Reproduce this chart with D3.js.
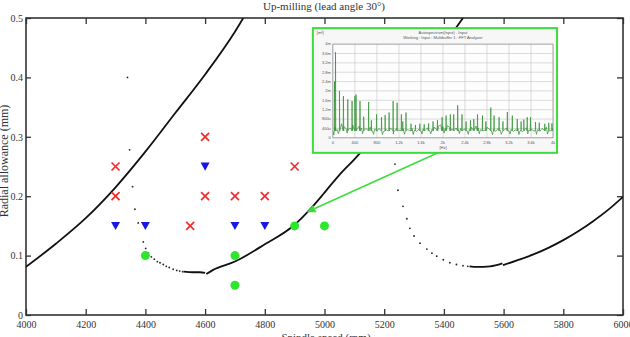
<!DOCTYPE html>
<html><head><meta charset="utf-8">
<script src="https://cdn.jsdelivr.net/npm/d3@7"></script>
<style>
html,body{margin:0;padding:0;background:#fff;}
svg{display:block;}
</style></head>
<body>
<svg id="chart" width="630" height="337"></svg>
<script>
// ---------- data ----------
const title = "Up-milling (lead angle 30°)";
const xLabel = "Spindle speed (rpm)";
const yLabel = "Radial allowance (mm)";
const xTicks = [4000,4200,4400,4600,4800,5000,5200,5400,5600,5800,6000];
const yTicks = [0,0.1,0.2,0.3,0.4,0.5];
const yTickLabels = ["0","0.1","0.2","0.3","0.4","0.5"];

// stability lobes: solid (dense) segments
const lobeSolid1 = [[4000,0.081],[4100,0.120],[4200,0.163],[4300,0.215],[4400,0.275],[4500,0.340],[4600,0.405],[4700,0.477],[4728,0.5]];
const lobeSolid2a = [[4528,0.073],[4560,0.072],[4583,0.072],[4600,0.071]];
const lobeSolid2b = [[4604,0.069],[4627,0.076],[4700,0.090],[4800,0.119],[4900,0.152],[4950,0.177],[5000,0.206],[5050,0.236],[5100,0.262],[5200,0.320],[5300,0.385],[5400,0.455],[5464,0.5]];
const lobeSolid3a = [[5486,0.082],[5510,0.081],[5555,0.082],[5596,0.087]];
const lobeSolid3b = [[5598,0.084],[5645,0.092],[5700,0.102],[5750,0.113],[5800,0.126],[5850,0.141],[5900,0.158],[5950,0.177],[6000,0.199]];
// stability lobes: sparse dotted branches
const lobeDots2 = [[4340,0.40],[4347,0.278],[4357,0.216],[4365,0.178],[4376,0.155],[4393,0.123],[4401,0.112],[4410,0.104],[4420,0.098],[4430,0.094],[4440,0.090],[4449,0.088],[4460,0.085],[4470,0.082],[4480,0.080],[4493,0.077],[4505,0.075],[4515,0.074],[4525,0.073]];
const lobeDots3 = [[5236,0.254],[5246,0.21],[5263,0.183],[5276,0.162],[5286,0.146],[5300,0.133],[5320,0.121],[5343,0.111],[5360,0.104],[5376,0.099],[5398,0.093],[5420,0.088],[5442,0.085],[5464,0.083],[5480,0.082]];

// cutting tests
const unstable = [[4300,0.25],[4300,0.2],[4600,0.3],[4600,0.2],[4700,0.2],[4800,0.2],[4550,0.15],[4900,0.25]];
const marginal = [[4300,0.15],[4400,0.15],[4600,0.25],[4700,0.15],[4800,0.15]];
const stable = [[4400,0.1],[4700,0.1],[4700,0.05],[4900,0.15],[5000,0.15]];

// inset (FFT spectrum) placed in data coordinates of main chart
const insetBox = {x0:4961, x1:5779, y0:0.483, y1:0.273};
const arrowFrom = [5380,0.273];
const arrowTo = [4940,0.173];
const insetTitle1 = "Autospectrum(Input) - Input";
const insetTitle2 = "Working : Input : Multibuffer 1 : FFT Analyzer";
const insetYUnit = "[m²]";
const insetXUnit = "[Hz]";
const fTicks = [0,400,800,1200,1600,2000,2400,2800,3200,3600,4000];
const fTickLabels = ["0","400","800","1.2k","1.6k","2k","2.4k","2.8k","3.2k","3.6k","4k"];
const aTicks = [0,0.4,0.8,1.2,1.6,2.0,2.4,2.8,3.2,3.6,4.0];
const aTickLabels = ["0","400u","800u","1.2m","1.6m","2m","2.4m","2.8m","3.2m","3.6m","4m"];
// baseline noise (m), every 40 Hz from 0 to 4000
const specBase = [0.30,0.45,0.35,0.50,0.60,0.48,0.40,0.35,0.42,0.55,0.45,0.38,0.50,0.42,0.35,0.40,0.32,0.45,0.30,0.38,
  0.28,0.40,0.33,0.27,0.36,0.30,0.42,0.35,0.28,0.40,0.33,0.30,0.38,0.28,0.35,0.30,0.40,0.32,0.27,0.36,
  0.30,0.38,0.33,0.42,0.30,0.36,0.45,0.38,0.50,0.55,0.48,0.40,0.52,0.45,0.38,0.50,0.42,0.35,0.40,0.33,
  0.38,0.30,0.36,0.45,0.38,0.50,0.42,0.35,0.40,0.32,0.45,0.38,0.30,0.36,0.28,0.40,0.33,0.27,0.35,0.42,
  0.30,0.36,0.28,0.34,0.40,0.30,0.26,0.35,0.42,0.33,0.38,0.30,0.45,0.35,0.28,0.40,0.33,0.45,0.38,0.30,0.42];
const specBaseStep = 40;
// dips in the noise (Hz, m)
const specDips = [[20,0.12],[100,0.18],[260,0.2],[540,0.18],[740,0.15],[900,0.14],[1100,0.16],[1300,0.15],[1460,0.14],[1620,0.16],[1780,0.17],[2020,0.2],[2300,0.18],[2460,0.15],[2660,0.17],[2900,0.14],[3060,0.15],[3220,0.16],[3380,0.14],[3540,0.17],[3700,0.15],[3900,0.16]];
// spectral peaks (Hz, m)
const specPeaks = [[30,2.4],[48,3.65],[120,2.0],[192,1.78],[271,1.64],[349,1.57],[400,1.78],[421,1.85],[493,1.57],[560,0.9],[650,1.53],[700,0.75],
  [794,1.0],[884,0.88],[950,0.97],[1022,1.08],[1095,1.57],[1167,1.5],[1245,1.0],[1270,0.7],[1329,1.08],
  [1420,0.6],[1500,0.55],[1580,0.6],[1660,0.58],[1740,0.62],[1820,0.7],[1900,0.75],[1985,0.88],[2057,0.95],[2135,1.0],[2195,1.0],
  [2268,1.39],[2346,1.0],[2420,0.7],[2500,0.75],[2560,0.8],[2628,1.0],[2718,0.95],[2780,0.7],[2869,1.29],[2929,0.95],[3020,0.88],
  [3090,0.7],[3170,1.1],[3260,0.95],[3350,0.8],[3420,0.7],[3470,0.78],[3531,0.88],[3591,0.88],[3681,0.67],[3750,0.65],[3850,0.6],[3922,0.64],[3980,0.62]];

// ---------- drawing ----------
const svg = d3.select("#chart");
const W = 630, H = 337;
const m = {l:26, r:7, t:18, b:22};
const x = d3.scaleLinear().domain([4000,6000]).range([m.l, W-m.r]);
const y = d3.scaleLinear().domain([0,0.5]).range([H-m.b, m.t]);
const serif = "'Liberation Serif','Times New Roman',serif";
const ink = "#333";

// title
svg.append("text").attr("x", 324).attr("y", 10).attr("text-anchor","middle")
  .attr("font-family", serif).attr("font-size", 11).attr("fill", ink).text(title);

// axes
function styleAxis(g){
  g.select(".domain").remove();
  g.selectAll(".tick line").attr("stroke", ink).attr("stroke-width", 1.3);
  g.selectAll(".tick text").attr("font-family", serif).attr("font-size", 10).attr("fill", ink);
}
svg.append("g").attr("transform",`translate(0,${y(0)})`)
  .call(d3.axisBottom(x).tickValues(xTicks).tickFormat(d3.format("d")).tickSizeInner(-6).tickSizeOuter(0).tickPadding(6))
  .call(styleAxis);
svg.append("g").attr("transform",`translate(0,${y(0.5)})`)
  .call(d3.axisTop(x).tickValues(xTicks).tickFormat("").tickSizeInner(-6).tickSizeOuter(0))
  .call(styleAxis);
svg.append("g").attr("transform",`translate(${x(4000)},0)`)
  .call(d3.axisLeft(y).tickValues(yTicks).tickFormat((d,i)=>yTickLabels[i]).tickSizeInner(-5).tickSizeOuter(0).tickPadding(3))
  .call(styleAxis);
svg.append("g").attr("transform",`translate(${x(6000)},0)`)
  .call(d3.axisRight(y).tickValues(yTicks).tickFormat("").tickSizeInner(-6).tickSizeOuter(0))
  .call(styleAxis);

// frame
svg.append("rect").attr("x", x(4000)).attr("y", y(0.5)).attr("width", x(6000)-x(4000)).attr("height", y(0)-y(0.5))
  .attr("fill","none").attr("stroke", ink).attr("stroke-width", 1.6);

// axis labels
svg.append("text").attr("x", 326).attr("y", 341).attr("text-anchor","middle")
  .attr("font-family", serif).attr("font-size", 11).attr("fill", ink).text(xLabel);
svg.append("text").attr("transform", "translate(8,161) rotate(-90)").attr("text-anchor","middle")
  .attr("font-family", serif).attr("font-size", 12).attr("fill", ink).text(yLabel);

// clip for plot
svg.append("clipPath").attr("id","plotclip").append("rect")
  .attr("x", x(4000)).attr("y", y(0.5)).attr("width", x(6000)-x(4000)).attr("height", y(0)-y(0.5));
const plot = svg.append("g").attr("clip-path","url(#plotclip)");

const line = d3.line().x(d=>x(d[0])).y(d=>y(d[1])).curve(d3.curveMonotoneX);
[lobeSolid1, lobeSolid2a, lobeSolid2b, lobeSolid3a, lobeSolid3b].forEach(seg=>{
  plot.append("path").datum(seg).attr("d", line).attr("fill","none")
    .attr("stroke","#111").attr("stroke-width", 1.8);
});
[lobeDots2, lobeDots3].forEach(dots=>{
  plot.selectAll(null).data(dots).enter().append("circle")
    .attr("cx", d=>x(d[0])).attr("cy", d=>y(d[1])).attr("r", 0.9).attr("fill","#222");
});

// markers
const red = "#f22a2a", blue = "#1717e6", green = "#2ee62e";
const xs = plot.selectAll(null).data(unstable).enter().append("g")
  .attr("transform", d=>`translate(${x(d[0])},${y(d[1])})`);
xs.append("path").attr("d","M-4,-4L4,4M-4,4L4,-4").attr("stroke", red).attr("stroke-width", 1.7).attr("fill","none");
plot.selectAll(null).data(marginal).enter().append("path")
  .attr("transform", d=>`translate(${x(d[0])},${y(d[1])})`)
  .attr("d","M-4.5,-4L4.5,-4L0,4.2Z").attr("fill", blue);
plot.selectAll(null).data(stable).enter().append("circle")
  .attr("cx", d=>x(d[0])).attr("cy", d=>y(d[1])).attr("r", 4.5).attr("fill", green);

// arrow from inset to lobe
const insetGreen = "#3ddc3d";
const ax0 = x(arrowFrom[0]), ay0 = y(arrowFrom[1]), ax1 = x(arrowTo[0]), ay1 = y(arrowTo[1]);
const ang = Math.atan2(ay1-ay0, ax1-ax0);
const hl = 9, hw = 4;
const bx = ax1 - hl*Math.cos(ang), by = ay1 - hl*Math.sin(ang);
svg.append("line").attr("x1", ax0).attr("y1", ay0).attr("x2", bx).attr("y2", by)
  .attr("stroke", insetGreen).attr("stroke-width", 1.6);
svg.append("path").attr("d", `M${ax1},${ay1}L${bx - hw*Math.sin(ang)},${by + hw*Math.cos(ang)}L${bx + hw*Math.sin(ang)},${by - hw*Math.cos(ang)}Z`)
  .attr("fill", insetGreen);

// inset
const ix0 = x(insetBox.x0), ix1 = x(insetBox.x1), iy0 = y(insetBox.y0), iy1 = y(insetBox.y1);
const inset = svg.append("g");
inset.append("rect").attr("x", ix0).attr("y", iy0).attr("width", ix1-ix0).attr("height", iy1-iy0)
  .attr("fill","#f7f7f7").attr("stroke", insetGreen).attr("stroke-width", 2);
const fx = d3.scaleLinear().domain([0,4000]).range([ix0+20, ix1-4]);
const fy = d3.scaleLinear().domain([0,4]).range([iy1-15, iy0+16]);
inset.append("rect").attr("x", fx(0)).attr("y", fy(4)).attr("width", fx(4000)-fx(0)).attr("height", fy(0)-fy(4))
  .attr("fill","#fdfdfd");
inset.selectAll(null).data(fTicks).enter().append("line")
  .attr("x1", d=>fx(d)).attr("x2", d=>fx(d)).attr("y1", fy(0)).attr("y2", fy(4))
  .attr("stroke","#c4c4c4").attr("stroke-width", 0.6);
inset.selectAll(null).data(aTicks).enter().append("line")
  .attr("x1", fx(0)).attr("x2", fx(4000)).attr("y1", d=>fy(d)).attr("y2", d=>fy(d))
  .attr("stroke","#c4c4c4").attr("stroke-width", 0.6);
inset.append("rect").attr("x", fx(0)).attr("y", fy(4)).attr("width", fx(4000)-fx(0)).attr("height", fy(0)-fy(4))
  .attr("fill","none").attr("stroke","#888").attr("stroke-width", 0.6);
const sans = "'Liberation Sans','DejaVu Sans',sans-serif";
inset.selectAll(null).data(aTicks).enter().append("text")
  .attr("x", fx(0)-2).attr("y", d=>fy(d)+1.4).attr("text-anchor","end")
  .attr("font-family", sans).attr("font-size", 4).attr("fill","#555").text((d,i)=>aTickLabels[i]);
inset.selectAll(null).data(fTicks).enter().append("text")
  .attr("x", d=>fx(d)).attr("y", fy(0)+6).attr("text-anchor","middle")
  .attr("font-family", sans).attr("font-size", 4).attr("fill","#555").text((d,i)=>fTickLabels[i]);
inset.append("text").attr("x", (fx(0)+fx(4000))/2).attr("y", fy(0)+11).attr("text-anchor","middle")
  .attr("font-family", sans).attr("font-size", 4).attr("fill","#555").text(insetXUnit);
inset.append("text").attr("x", ix0+4).attr("y", iy0+6).attr("font-family", sans).attr("font-size", 4).attr("fill","#555").text(insetYUnit);
inset.append("text").attr("x", (fx(0)+fx(4000))/2).attr("y", iy0+6).attr("text-anchor","middle")
  .attr("font-family", sans).attr("font-size", 4).attr("fill","#555").text(insetTitle1);
inset.append("text").attr("x", (fx(0)+fx(4000))/2).attr("y", iy0+11).attr("text-anchor","middle")
  .attr("font-family", sans).attr("font-size", 4).attr("fill","#555").text(insetTitle2);

// spectrum series assembled from base, dips and peaks
const spec = specBase.map((v,i)=>[i*specBaseStep, v]);
specDips.forEach(d=>spec.push(d));
specPeaks.forEach(p=>{ spec.push([p[0]-5, 0.3]); spec.push(p); spec.push([p[0]+5, 0.3]); });
spec.sort((a,b)=>a[0]-b[0]);
const specLine = d3.line().x(d=>fx(d[0])).y(d=>fy(d[1]));
inset.append("clipPath").attr("id","specclip").append("rect")
  .attr("x", fx(0)).attr("y", fy(4)).attr("width", fx(4000)-fx(0)).attr("height", fy(0)-fy(4));
inset.append("path").datum(spec).attr("d", specLine).attr("clip-path","url(#specclip)")
  .attr("fill","none").attr("stroke","#2f8f2f").attr("stroke-width", 0.7);
</script>
</body></html>
